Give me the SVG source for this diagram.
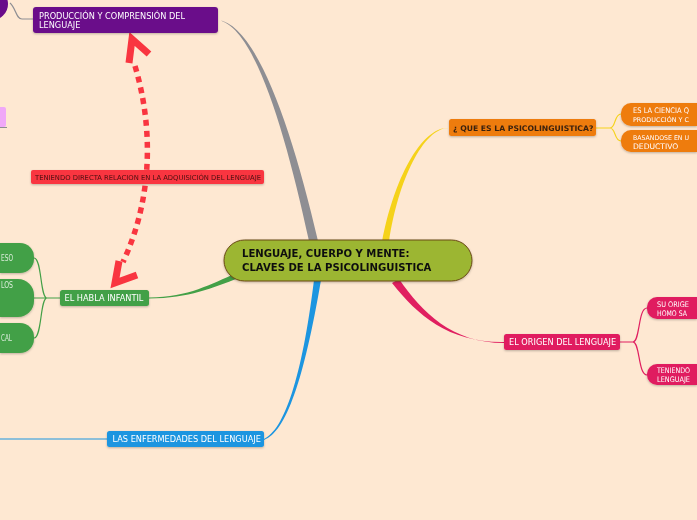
<svg xmlns="http://www.w3.org/2000/svg" width="697" height="520" viewBox="0 0 697 520">
<defs>
<filter id="sh" x="-10%" y="-20%" width="120%" height="150%"><feDropShadow dx="0" dy="1" stdDeviation="1" flood-color="#000" flood-opacity="0.25"/></filter>
</defs>
<style>
.t{font-family:"DejaVu Sans","Verdana",sans-serif;font-size:8.2px;fill:#fff}
.te{font-size:7.6px}
.ts{font-size:6.4px}
.tb{font-family:"DejaVu Sans","Verdana",sans-serif;font-weight:bold}
.thin{fill:none;stroke-width:1.2}
.arr{fill:none;stroke:#f93540;stroke-width:5.5}
.head{fill:none;stroke:#f93540;stroke-width:7}
</style>
<rect width="697" height="520" fill="#fee8d2"/>
<g id="connectors">
<path d="M10,3 C16,8 16,19 22,19 L33,19" class="thin" stroke="#8e8e93"/>
<path d="M218,20 C256,24 292,128 318,241 L309,241 C285,130 254,26 218,20 Z" fill="#8e8e93"/>
<path d="M264,440 C286,432 304,380 321,280 L314,280 C302,378 284,430 264,439 Z" fill="#1c95e0"/>
<path d="M0,439 L107,439" class="thin" stroke="#1c95e0"/>
<path d="M449,128 C424,127 398,180 389,242 L382,242 C394,178 422,126 449,128 Z" fill="#f5d21a"/>
<path d="M504,343 C452,343 422,312 399,279 L392,283 C418,316 450,343 504,342 Z" fill="#e01f60"/>
<path d="M149,298.5 C190,298 212,288 239,278 L237,273 C210,284 190,297 149,297.5 Z" fill="#43a047"/>
<path d="M60,298 L47,298 C40,298 42,258 34,258 M47,298 L34,298 M47,298 C40,298 42,338 34,338" class="thin" stroke="#43a047"/>
<path d="M596,128 L610,128 C616,128 614,114 621,114 M610,128 C616,128 614,141 621,141" class="thin" stroke="#f5d21a"/>
<path d="M620,342 L633,342 C640,342 638,308 647,308 M633,342 C640,342 638,375 647,375" class="thin" stroke="#e01f60"/>
<path d="M135,66 C154,130 152,200 123,262" class="arr" stroke-dasharray="6 5"/>
<polyline points="129,63 132,39 149,54" class="head"/>
<polyline points="119,261 115,283 137,275" class="head"/>
</g>
<g id="top-left-node"><circle cx="-8" cy="4" r="16" fill="#6a0b8a"/></g>
<g id="pink-node"><rect x="-6" y="107" width="12" height="20" rx="2" fill="#f0a8f8"/><line x1="0" y1="127.5" x2="7" y2="127.5" stroke="#8e8e93" stroke-width="1"/></g>
<g id="produccion" filter="url(#sh)">
<rect x="33" y="7" width="185" height="26" rx="3" fill="#6a0b8a"/>
<text class="t" x="39" y="18.5">PRODUCCIÓN Y COMPRENSIÓN DEL</text>
<text class="t" x="39" y="27.5">LENGUAJE</text>
</g>
<g id="relacion" filter="url(#sh)">
<rect x="31" y="170" width="233" height="14" rx="2" fill="#f93540"/>
<text class="t" x="35" y="179.5" style="font-size:6.8px;fill:#4a1010">TENIENDO DIRECTA RELACION EN LA ADQUISICIÓN DEL LENGUAJE</text>
</g>
<g id="central" filter="url(#sh)">
<rect x="224" y="240" width="248" height="41" rx="20.5" fill="#9cb631" stroke="#6b4a14" stroke-width="1"/>
<text class="tb" x="242" y="257" style="font-size:10.1px" fill="#111">LENGUAJE, CUERPO Y MENTE:</text>
<text class="tb" x="242" y="271" style="font-size:10.1px" fill="#111">CLAVES DE LA PSICOLINGUISTICA</text>
</g>
<g id="habla" filter="url(#sh)">
<rect x="60" y="290" width="89" height="16" rx="2.5" fill="#43a047"/>
<text class="t" x="64.5" y="301">EL HABLA INFANTIL</text>
</g>
<g id="green-1" filter="url(#sh)"><path d="M0,243 H20 A14,14 0 0 1 34,257 V259 A14,14 0 0 1 20,273 H0 Z" fill="#43a047"/><text class="t" x="1" y="261" textLength="12" lengthAdjust="spacingAndGlyphs" fill-opacity="0.8">ESO</text></g>
<g id="green-2" filter="url(#sh)"><path d="M0,279 H18 A16,16 0 0 1 34,295 V301 A16,16 0 0 1 18,317 H0 Z" fill="#43a047"/><text class="t" x="1" y="288" textLength="12" lengthAdjust="spacingAndGlyphs" fill-opacity="0.8">LOS</text></g>
<g id="green-3" filter="url(#sh)"><path d="M0,323 H20 A14,14 0 0 1 34,337 V339 A14,14 0 0 1 20,353 H0 Z" fill="#43a047"/><text class="t" x="1" y="341" textLength="11" lengthAdjust="spacingAndGlyphs" fill-opacity="0.8">CAL</text></g>
<g id="enfermedades" filter="url(#sh)">
<rect x="107" y="431" width="157" height="16" rx="2.5" fill="#1c95e0"/>
<text class="t" x="112.5" y="442">LAS ENFERMEDADES DEL LENGUAJE</text>
</g>
<g id="que-es" filter="url(#sh)">
<rect x="449" y="119" width="147" height="17" rx="2.5" fill="#ee7b11"/>
<text class="tb" x="453" y="130.5" style="font-size:7.7px" fill="#3a2208">¿ QUE ES LA PSICOLINGUISTICA?</text>
</g>
<g id="ciencia" filter="url(#sh)">
<path d="M697,103 H631 A10,10 0 0 0 621,113 V116 A10,10 0 0 0 631,126 H697 Z" fill="#ee7b11"/>
<text class="t te" x="633" y="112.5" textLength="56" lengthAdjust="spacingAndGlyphs">ES LA CIENCIA Q</text>
<text class="t ts" x="633" y="121.5" textLength="56" lengthAdjust="spacingAndGlyphs">PRODUCCIÓN Y C</text>
</g>
<g id="basandose" filter="url(#sh)">
<path d="M697,130 H631 A10,10 0 0 0 621,140 V142 A10,10 0 0 0 631,152 H697 Z" fill="#ee7b11"/>
<text class="t ts" x="633" y="139.5" textLength="56" lengthAdjust="spacingAndGlyphs">BASANDOSE EN U</text>
<text class="t te" x="633" y="148.5">DEDUCTIVO</text>
</g>
<g id="origen" filter="url(#sh)">
<rect x="504" y="334" width="116" height="16" rx="2.5" fill="#e01f60"/>
<text class="t" x="509" y="345">EL ORIGEN DEL LENGUAJE</text>
</g>
<g id="su-origen" filter="url(#sh)">
<path d="M697,297 H657 A10,10 0 0 0 647,307 V309 A10,10 0 0 0 657,319 H697 Z" fill="#e01f60"/>
<text class="t te" x="657" y="306.5" textLength="32" lengthAdjust="spacingAndGlyphs">SU ORIGE</text>
<text class="t te" x="657" y="315.5" textLength="30" lengthAdjust="spacingAndGlyphs">HOMO SA</text>
</g>
<g id="teniendo" filter="url(#sh)">
<path d="M697,364 H657 A10,10 0 0 0 647,374 V375 A10,10 0 0 0 657,385 H697 Z" fill="#e01f60"/>
<text class="t te" x="657" y="373" textLength="33" lengthAdjust="spacingAndGlyphs">TENIENDO</text>
<text class="t te" x="657" y="382" textLength="33" lengthAdjust="spacingAndGlyphs">LENGUAJE</text>
</g>
</svg>
